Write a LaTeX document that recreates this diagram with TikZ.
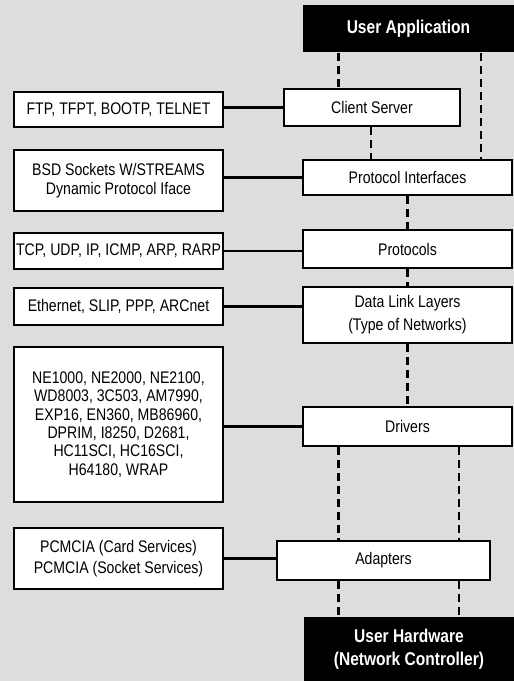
\documentclass[tikz,border=0pt]{standalone}
\usepackage{fontspec}
\setmainfont[FakeStretch=0.84]{Liberation Sans}
\usetikzlibrary{positioning}
\definecolor{bggray}{RGB}{220,221,223}

\begin{document}
\begin{tikzpicture}[x=1pt, y=-1pt, line join=miter, line width=2.4pt]

	\tikzstyle{layer}=[draw, fill=white, inner sep=0pt, align=center,
		font=\fontsize{16.8}{18.3}\selectfont]
	\tikzstyle{ends}=[fill=black, text=white, inner sep=0pt, align=center,
		font=\fontsize{18.5}{23}\selectfont\bfseries]
	\tikzstyle{link}=[line width=2.8pt, dash pattern=on 8pt off 5pt]
    \def\lx{118.5}
    \def\rx{407.5}
    \def\bw{209pt}

    \useasboundingbox (0,0) rectangle (514,681);
    \fill [bggray] (0,0) rectangle (514,681);

    % right column
    \node [ends, minimum width=211pt, minimum height=47pt] (ua) at (408.5,28.5) {User Application};
    \node [layer, minimum width=176pt, minimum height=37pt] (cs) at (372,107.5) {Client Server};
    \node [layer, minimum width=\bw, minimum height=35pt] (pi) at (\rx,177.5) {Protocol Interfaces};
    \node [layer, minimum width=\bw, minimum height=38pt] (proto) at (\rx,249) {Protocols};
    \node [layer, minimum width=\bw, minimum height=56pt] (dl) at (\rx,315)
      {Data Link Layers\\[4.7pt](Type of Networks)};
    \node [layer, minimum width=\bw, minimum height=39pt] (drv) at (\rx,426.5) {Drivers};
    \node [layer, minimum width=213pt, minimum height=39pt] (adp) at (383.5,560.5) {Adapters};
    \node [ends, minimum width=210pt, minimum height=64pt] (uh) at (409,649)
      {User Hardware\\(Network Controller)};

    % left column
    \node [layer, minimum width=\bw, minimum height=35pt] (ftp) at (\lx,109.5) {FTP, TFPT, BOOTP, TELNET};
    \node [layer, minimum width=\bw, minimum height=61pt] (bsd) at (\lx,180.5)
      {BSD Sockets W/STREAMS\\[1pt]Dynamic Protocol Iface};
    \node [layer, minimum width=\bw, minimum height=36pt] (tcp) at (\lx,251) {TCP, UDP, IP, ICMP, ARP, RARP};
    \node [layer, minimum width=\bw, minimum height=37pt] (eth) at (\lx,306.5) {Ethernet, SLIP, PPP, ARCnet};
    \node [layer, minimum width=\bw, minimum height=155pt] (ne) at (\lx,424.5)
      {NE1000, NE2000, NE2100,\\WD8003, 3C503, AM7990,\\EXP16, EN360, MB86960,\\
       DPRIM, I8250, D2681,\\HC11SCI, HC16SCI,\\H64180, WRAP};
    \node [layer, minimum width=\bw, minimum height=61pt] (pcm) at (\lx,558.5)
      {PCMCIA (Card Services)\\[2.7pt]PCMCIA (Socket Services)};

    % solid links
    \draw (cs.west -| ftp.east) -- (cs.west);
    \draw (pi.west -| bsd.east) -- (pi.west);
    \draw (tcp.east) -- (tcp.east -| proto.west);
    \draw (eth.east) -- (eth.east -| dl.west);
    \draw (drv.west -| ne.east) -- (drv.west);
    \draw (pcm.east) -- (pcm.east -| adp.west);

    % dashed links
    \coordinate (colA) at (338.5,0);
    \coordinate (colB) at (481,0);
    \coordinate (colC) at (371,0);
    \coordinate (colD) at (459,0);
    \draw [link] (ua.south -| colA) -- (cs.north -| colA);
    \draw [link] (ua.south -| colB) -- (pi.north -| colB);
    \draw [link] (cs.south -| colC) -- (pi.north -| colC);
    \draw [link] (pi.south) -- (proto.north);
    \draw [link] (proto.south) -- (dl.north);
    \draw [link] (dl.south) -- (drv.north);
    \draw [link] (drv.south -| colA) -- (adp.north -| colA);
    \draw [link] (drv.south -| colD) -- (adp.north -| colD);
    \draw [link] (adp.south -| colA) -- (uh.north -| colA);
    \draw [link] (adp.south -| colD) -- (uh.north -| colD);

\end{tikzpicture}
\end{document}
